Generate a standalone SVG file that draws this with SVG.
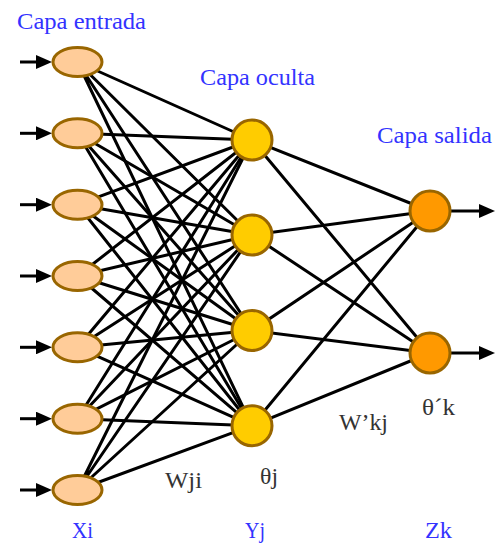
<svg xmlns="http://www.w3.org/2000/svg" width="499" height="545" viewBox="0 0 499 545">
<style>
.lbl{font-family:"Liberation Serif","Times New Roman",serif;fill:#3333ff;font-size:23px}
.sym{font-family:"Liberation Serif","Times New Roman",serif;fill:#333333;font-size:23px}
.edge{stroke:#000;stroke-width:3;fill:none}
.in{fill:#ffcc99;stroke:#996600;stroke-width:3}
.hid{fill:#ffcc00;stroke:#996600;stroke-width:3}
.out{fill:#ff9900;stroke:#996600;stroke-width:3}
</style>
<defs>
<marker id="ah" markerUnits="userSpaceOnUse" viewBox="0 0 16 14" refX="0" refY="7" markerWidth="16" markerHeight="14" orient="auto">
<path d="M0,0 L16,7 L0,14 z" fill="#000"/>
</marker>
</defs>
<rect width="499" height="545" fill="#fff"/>
<g id="connectors">
<g id="input-hidden">
<path class="edge" d="M77.5,62 L252,140 M77.5,62 L252,235 M77.5,62 L252,330.5 M77.5,62 L252,425.7"/>
<path class="edge" d="M77.5,133.3 L252,140 M77.5,133.3 L252,235 M77.5,133.3 L252,330.5 M77.5,133.3 L252,425.7"/>
<path class="edge" d="M77.5,204.7 L252,140 M77.5,204.7 L252,235 M77.5,204.7 L252,330.5 M77.5,204.7 L252,425.7"/>
<path class="edge" d="M77.5,276 L252,140 M77.5,276 L252,235 M77.5,276 L252,330.5 M77.5,276 L252,425.7"/>
<path class="edge" d="M77.5,347.3 L252,140 M77.5,347.3 L252,235 M77.5,347.3 L252,330.5 M77.5,347.3 L252,425.7"/>
<path class="edge" d="M77.5,418.7 L252,140 M77.5,418.7 L252,235 M77.5,418.7 L252,330.5 M77.5,418.7 L252,425.7"/>
<path class="edge" d="M77.5,490 L252,140 M77.5,490 L252,235 M77.5,490 L252,330.5 M77.5,490 L252,425.7"/>
</g>
<g id="hidden-output">
<path class="edge" d="M252,140 L430,211 M252,140 L430,353 M252,235 L430,211 M252,235 L430,353 M252,330.5 L430,211 M252,330.5 L430,353 M252,425.7 L430,211 M252,425.7 L430,353"/>
</g>
<g id="arrows">
<line class="edge" x1="20" y1="62" x2="36" y2="62" marker-end="url(#ah)"/>
<line class="edge" x1="20" y1="133.3" x2="36" y2="133.3" marker-end="url(#ah)"/>
<line class="edge" x1="20" y1="204.7" x2="36" y2="204.7" marker-end="url(#ah)"/>
<line class="edge" x1="20" y1="276" x2="36" y2="276" marker-end="url(#ah)"/>
<line class="edge" x1="20" y1="347.3" x2="36" y2="347.3" marker-end="url(#ah)"/>
<line class="edge" x1="20" y1="418.7" x2="36" y2="418.7" marker-end="url(#ah)"/>
<line class="edge" x1="20" y1="490" x2="36" y2="490" marker-end="url(#ah)"/>
<line class="edge" x1="450" y1="211" x2="479" y2="211" marker-end="url(#ah)"/>
<line class="edge" x1="450" y1="353" x2="479" y2="353" marker-end="url(#ah)"/>
</g>
</g>
<g id="x1"><ellipse class="in" cx="77.5" cy="62" rx="24.5" ry="14.5"/></g>
<g id="x2"><ellipse class="in" cx="77.5" cy="133.3" rx="24.5" ry="14.5"/></g>
<g id="x3"><ellipse class="in" cx="77.5" cy="204.7" rx="24.5" ry="14.5"/></g>
<g id="x4"><ellipse class="in" cx="77.5" cy="276" rx="24.5" ry="14.5"/></g>
<g id="x5"><ellipse class="in" cx="77.5" cy="347.3" rx="24.5" ry="14.5"/></g>
<g id="x6"><ellipse class="in" cx="77.5" cy="418.7" rx="24.5" ry="14.5"/></g>
<g id="x7"><ellipse class="in" cx="77.5" cy="490" rx="24.5" ry="14.5"/></g>
<g id="y1"><circle class="hid" cx="252" cy="140" r="20"/></g>
<g id="y2"><circle class="hid" cx="252" cy="235" r="20"/></g>
<g id="y3"><circle class="hid" cx="252" cy="330.5" r="20"/></g>
<g id="y4"><circle class="hid" cx="252" cy="425.7" r="20"/></g>
<g id="z1"><circle class="out" cx="430" cy="211" r="20"/></g>
<g id="z2"><circle class="out" cx="430" cy="353" r="20"/></g>
<g id="labels">
<text class="lbl" x="17" y="29" textLength="129" lengthAdjust="spacingAndGlyphs">Capa entrada</text>
<text class="lbl" x="200" y="85" textLength="115" lengthAdjust="spacingAndGlyphs">Capa oculta</text>
<text class="lbl" x="377" y="143" textLength="115" lengthAdjust="spacingAndGlyphs">Capa salida</text>
<text class="lbl" x="72" y="538" textLength="21" lengthAdjust="spacingAndGlyphs">Xi</text>
<text class="lbl" x="245" y="538" textLength="20" lengthAdjust="spacingAndGlyphs">Yj</text>
<text class="lbl" x="425" y="538" textLength="27" lengthAdjust="spacingAndGlyphs">Zk</text>
<text class="sym" x="165" y="488" textLength="37" lengthAdjust="spacingAndGlyphs">Wji</text>
<text class="sym" x="260" y="484" textLength="18" lengthAdjust="spacingAndGlyphs">θj</text>
<text class="sym" x="339" y="430" textLength="49" lengthAdjust="spacingAndGlyphs">W’kj</text>
<text class="sym" x="422" y="415" textLength="33" lengthAdjust="spacingAndGlyphs">θ´k</text>
</g>
</svg>
